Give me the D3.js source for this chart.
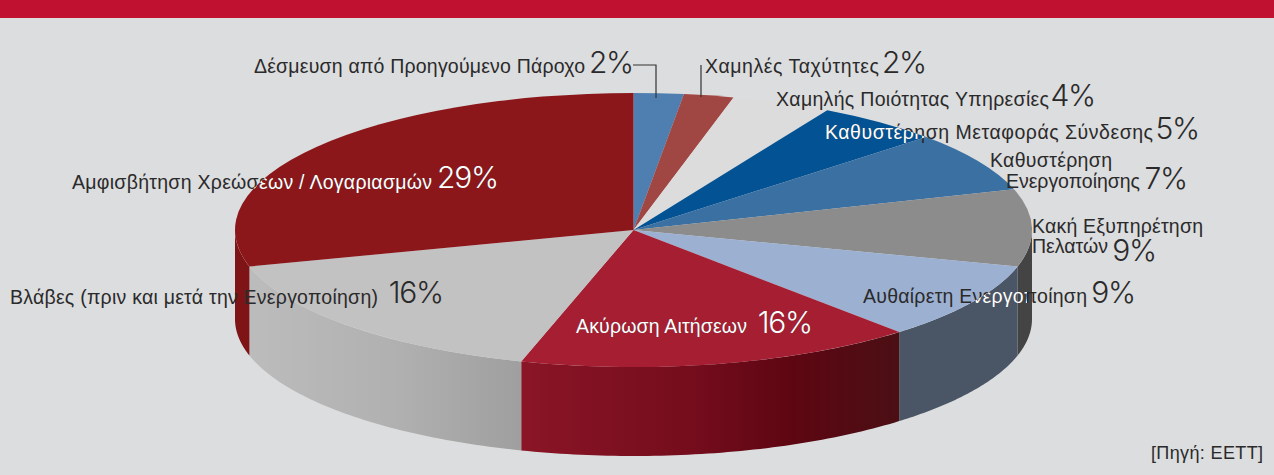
<!DOCTYPE html>
<html lang="el">
<head>
<meta charset="utf-8">
<script src="https://cdn.jsdelivr.net/npm/d3@7"></script>
<style>
  html, body { margin: 0; padding: 0; background: #dcddde; }
  svg { display: block; }
  .name { font-family: "Liberation Sans", sans-serif; font-size: 19.5px; }
  .pct { font-family: "Inter", sans-serif; font-weight: 300; font-size: 30px; letter-spacing: -1.2px; }
  .src { font-family: "Liberation Sans", sans-serif; font-size: 18px; }
</style>
</head>
<body>
<svg id="chart" width="1274" height="475"></svg>
<script>
// δεδομένα
const categories = [
  'Δέσμευση από Προηγούμενο Πάροχο',
  'Χαμηλές Ταχύτητες',
  'Χαμηλής Ποιότητας Υπηρεσίες',
  'Καθυστέρηση Μεταφοράς Σύνδεσης',
  'Καθυστέρηση Ενεργοποίησης',
  'Κακή Εξυπηρέτηση Πελατών',
  'Αυθαίρετη Ενεργοποίηση',
  'Ακύρωση Αιτήσεων',
  'Βλάβες (πριν και μετά την Ενεργοποίηση)',
  'Αμφισβήτηση Χρεώσεων / Λογαριασμών'
];
const values = [2, 2, 4, 5, 7, 9, 9, 16, 16, 29];
const source = '[Πηγή: ΕΕΤΤ]';

// χρώματα
const topColors = ['#4f7fb0', '#a04744', '#dcdcdc', '#035394', '#3b70a2', '#8c8c8c', '#9cb1d2', '#a61e32', '#c2c2c2', '#8b171b'];
const wallColors = [null, null, null, null, null, '#444444', '#4a5666', 'url(#wallRed)', 'url(#wallSilver)', '#7e1416'];

// θέσεις ετικετών: lines = [x, baseline, κείμενο, πλάτος], pct = τέλος και baseline του ποσοστού
const labelLayout = [
  { lines: [[254, 73, categories[0], 331]], pct: [633, 73] },
  { lines: [[705, 73, categories[1], 174]], pct: [926, 73] },
  { lines: [[776, 106, categories[2], 273]], pct: [1095, 106] },
  { lines: [[825, 139, categories[3], 328]], pct: [1199, 139] },
  { lines: [[990, 167, 'Καθυστέρηση', 122], [1006, 188, 'Ενεργοποίησης', 134]], pct: [1187, 189] },
  { lines: [[1032, 233, 'Κακή Εξυπηρέτηση', 171], [1032, 253, 'Πελατών', 76]], pct: [1156, 261] },
  { lines: [[863, 303, categories[6], 224]], pct: [1135, 303] },
  { lines: [[576, 333, categories[7], 171]], pct: [812, 333] },
  { lines: [[10, 304, categories[8], 368]], pct: [443, 303] },
  { lines: [[72, 189, categories[9], 360]], pct: [498, 188] }
];

const svg = d3.select('#chart');
const defs = svg.append('defs');

// έλλειψη της πάνω όψης και βάθος
const x = d3.scaleLinear().domain([-1, 1]).range([235, 1032]);
const y = d3.scaleLinear().domain([-1, 1]).range([93, 367]);
const depth = 89;
const rx = (x(1) - x(-1)) / 2;
const ry = (y(1) - y(-1)) / 2;

function gradient(id, stops) {
  const g = defs.append('linearGradient').attr('id', id)
    .attr('gradientUnits', 'userSpaceOnUse')
    .attr('x1', stops[0][0]).attr('x2', stops[stops.length - 1][0])
    .attr('y1', 0).attr('y2', 0);
  const x0 = stops[0][0];
  const x1 = stops[stops.length - 1][0];
  stops.forEach(s => {
    g.append('stop').attr('offset', (s[0] - x0) / (x1 - x0)).attr('stop-color', s[1]);
  });
}
gradient('wallRed', [[521, '#8a1526'], [700, '#730c1c'], [790, '#5e0612'], [900, '#4a0f14']]);
gradient('wallSilver', [[248, '#bcbcbc'], [400, '#b0b0b0'], [521, '#9f9f9f']]);

svg.append('rect').attr('width', 1274).attr('height', 475).attr('fill', '#dcddde');
svg.append('rect').attr('width', 1274).attr('height', 18).attr('fill', '#c01230');

const arcs = d3.pie().sort(null).value(d => d)(values);

// τοιχώματα: μόνο το μπροστινό μισό της έλλειψης φαίνεται
const wall = d3.area()
  .x(a => x(Math.sin(a)))
  .y0(a => y(-Math.cos(a)))
  .y1(a => y(-Math.cos(a)) + depth);

function wallPath(d) {
  const a0 = Math.max(d.startAngle, Math.PI / 2);
  const a1 = Math.min(d.endAngle, Math.PI * 1.5);
  if (a1 <= a0) return null;
  return wall(d3.range(0, 61).map(i => a0 + (a1 - a0) * i / 60));
}

svg.append('g').selectAll('path')
  .data(arcs)
  .join('path')
  .attr('d', wallPath)
  .attr('fill', (d, i) => wallColors[i]);

// πάνω όψη
const arc = d3.arc().innerRadius(0).outerRadius(rx);
const topTransform = `translate(${x(0)},${y(0)}) scale(1,${ry / rx})`;

svg.append('g').attr('transform', topTransform)
  .selectAll('path')
  .data(arcs)
  .join('path')
  .attr('d', arc)
  .attr('fill', (d, i) => topColors[i]);

// clip για το λευκό κείμενο πάνω στις σκούρες περιοχές
function topClip(id, i) {
  defs.append('clipPath').attr('id', id).append('path')
    .attr('d', arc(arcs[i])).attr('transform', topTransform);
}
topClip('clip3', 3);
topClip('clip7', 7);
topClip('clip9', 9);
const wallClip = defs.append('clipPath').attr('id', 'clipWall');
wallClip.append('path').attr('d', wallPath(arcs[6]));
wallClip.append('path').attr('d', wallPath(arcs[5]));
defs.append('clipPath').attr('id', 'clipWallEnd').append('rect')
  .attr('x', 900).attr('y', 260).attr('width', 127).attr('height', 60);

// γραμμές οδηγοί
const leader = d3.line();
svg.append('g').attr('fill', 'none').attr('stroke', '#333').attr('stroke-width', 1.2)
  .selectAll('path')
  .data([[[633, 65], [656, 65], [656, 98]], [[701, 65], [701, 97]]])
  .join('path')
  .attr('d', leader);

function drawLabel(parent, i, color) {
  const g = parent.append('g').attr('fill', color);
  labelLayout[i].lines.forEach(l => {
    g.append('text').attr('class', 'name')
      .attr('x', l[0]).attr('y', l[1])
      .attr('textLength', l[3]).attr('lengthAdjust', 'spacing')
      .text(l[2]);
  });
  g.append('text').attr('class', 'pct')
    .attr('x', labelLayout[i].pct[0]).attr('y', labelLayout[i].pct[1])
    .attr('text-anchor', 'end')
    .text(values[i] + '%');
}

const labels = svg.append('g');
categories.forEach((c, i) => drawLabel(labels, i, '#2b2a2b'));

drawLabel(svg.append('g').attr('clip-path', 'url(#clip3)'), 3, '#fff');
drawLabel(svg.append('g').attr('clip-path', 'url(#clip7)'), 7, '#fff');
drawLabel(svg.append('g').attr('clip-path', 'url(#clip9)'), 9, '#fff');
drawLabel(svg.append('g').attr('clip-path', 'url(#clipWallEnd)')
  .append('g').attr('clip-path', 'url(#clipWall)'), 6, '#fff');

svg.append('text').attr('class', 'src')
  .attr('x', 1151).attr('y', 459)
  .attr('textLength', 112).attr('lengthAdjust', 'spacing')
  .attr('fill', '#2b2a2b')
  .text(source);
</script>
</body>
</html>
